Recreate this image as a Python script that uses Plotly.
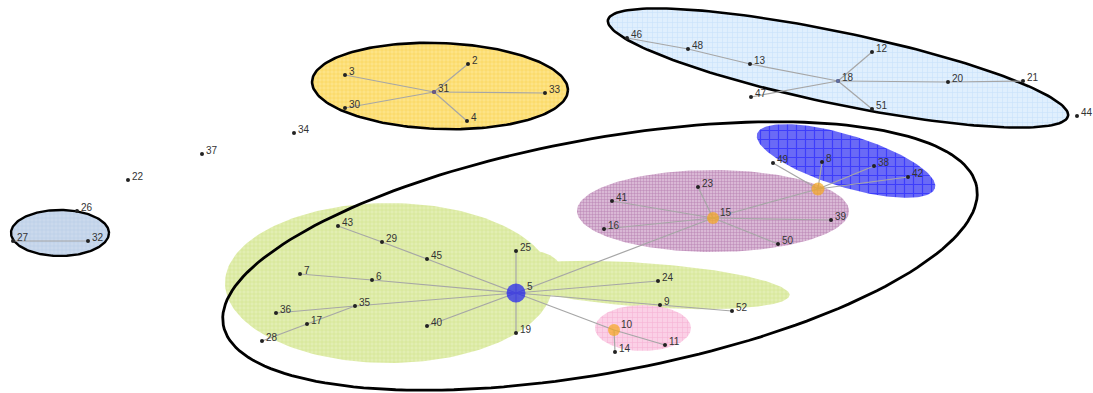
import numpy as np
import plotly.graph_objects as go

# ---- nodes: id, label, position (canvas units, y grows downward) ----
node_ids = ["31", "3", "2", "33", "30", "4",
            "18", "46", "48", "13", "12", "20", "21", "47", "51", "44",
            "27", "32", "26", "22", "37", "34",
            "5", "25", "19", "43", "29", "45", "7", "6", "35", "36", "17", "28", "40",
            "24", "9", "52", "10", "14", "11",
            "15", "23", "41", "16", "39", "50",
            "hub", "49", "8", "38", "42"]
node_labels = [n if n != "hub" else "" for n in node_ids]
node_x = [434, 345, 468, 545, 345, 467,
          838, 627, 688, 750, 872, 948, 1023, 751, 872, 1077,
          13, 88, 77, 128, 202, 294,
          516, 516, 516, 338, 382, 427, 300, 372, 355, 276, 307, 262, 427,
          658, 660, 732, 614, 615, 665,
          713, 698, 612, 604, 831, 778,
          818, 773, 822, 874, 908]
node_y = [92, 75, 64, 93, 108, 121,
          81, 38, 49, 64, 52, 82, 81, 97, 109, 116,
          241, 241, 211, 180, 154, 133,
          293, 251, 333, 226, 242, 259, 274, 280, 306, 313, 324, 341, 326,
          281, 305, 311, 330, 352, 345,
          218, 187, 201, 229, 220, 244,
          189, 163, 162, 166, 177]

# ---- edges ----
edges = [("31", "3"), ("31", "2"), ("31", "33"), ("31", "30"), ("31", "4"),
         ("18", "13"), ("13", "48"), ("48", "46"), ("18", "12"), ("18", "20"),
         ("20", "21"), ("18", "47"), ("18", "51"),
         ("27", "32"),
         ("5", "25"), ("5", "19"), ("5", "45"), ("45", "29"), ("29", "43"),
         ("5", "6"), ("6", "7"), ("5", "35"), ("35", "36"), ("35", "17"), ("17", "28"),
         ("5", "40"), ("5", "24"), ("5", "9"), ("9", "52"), ("5", "10"), ("10", "11"),
         ("10", "14"), ("5", "15"),
         ("15", "23"), ("15", "41"), ("15", "16"), ("15", "39"), ("15", "50"), ("15", "hub"),
         ("hub", "49"), ("hub", "8"), ("hub", "38"), ("hub", "42")]

# ---- hub highlights ----
hub_ids = ["5", "15", "hub", "10", "31", "18"]
hub_colors = ["#1c1cf2", "#f5a81e", "#f5a81e", "#f5a81e", "#8a6fb5", "#7b8fd8"]
hub_sizes = [19, 12, 13, 12, 4, 4]

# ---- cluster ellipses: centre, semi-axes, rotation (deg) ----
cl_name = ["green", "green_tail", "green_lobe", "pink", "purple", "navy",
           "group", "yellow", "sky", "left"]
cl_cx = [389, 645, 540, 643, 713, 846, 600, 440, 838, 60]
cl_cy = [283, 285, 262, 328, 211, 161, 256, 86, 68, 233]
cl_a = [164, 145, 20, 48, 136, 93, 383, 128, 235, 49]
cl_b = [80, 22, 10, 23, 41, 26, 117, 43, 36, 23]
cl_rot = [0, 4, 15, 0, 0, 17, -10.4, 2, 11.8, 0]
cl_bg = ["#e2eeb2", "#e2eeb2", "#e2eeb2", "#fbd0e6", "#d9b8d5", "#6a6af6",
         None, "#fde387", "#e0effd", "#cad9ec"]
cl_fg = ["#b9d35e", "#b9d35e", "#b9d35e", "#f39bc8", "#8d3c86", "#1010ff",
         None, "#f3c316", "#b6d6f7", "#9fbbe0"]
cl_psize = [4, 4, 4, 5, 3, 9, 4, 4, 5, 4]
cl_edge = [0, 0, 0, 0, 0, 0, 2.8, 2.6, 2.6, 2.4]


def ellipse_pts(cx, cy, a, b, rot):
    t = np.linspace(0, 2 * np.pi, 181)
    r = np.deg2rad(rot)
    ex, ey = a * np.cos(t), b * np.sin(t)
    return cx + ex * np.cos(r) - ey * np.sin(r), cy + ex * np.sin(r) + ey * np.cos(r)


fig = go.Figure()
pos = {n: (x, y) for n, x, y in zip(node_ids, node_x, node_y)}

draw_order = ["green", "green_tail", "green_lobe", "group", "pink", "purple", "navy",
              "yellow", "sky", "left"]
for name in draw_order:
    i = cl_name.index(name)
    ex, ey = ellipse_pts(cl_cx[i], cl_cy[i], cl_a[i], cl_b[i], cl_rot[i])
    kw = dict(x=ex, y=ey, mode="lines", hoverinfo="skip", showlegend=False)
    if cl_bg[i] is None:
        fig.add_trace(go.Scatter(**kw, line=dict(color="black", width=cl_edge[i])))
    else:
        fig.add_trace(go.Scatter(
            **kw, fill="toself", fillcolor=cl_bg[i],
            fillpattern=dict(shape="+", bgcolor=cl_bg[i], fgcolor=cl_fg[i],
                             size=cl_psize[i], solidity=0.25),
            line=dict(color="black" if cl_edge[i] else "rgba(0,0,0,0)",
                      width=cl_edge[i] if cl_edge[i] else 0.1)))

# edges
ex_all, ey_all = [], []
for s, t in edges:
    ex_all += [pos[s][0], pos[t][0], None]
    ey_all += [pos[s][1], pos[t][1], None]
fig.add_trace(go.Scatter(x=ex_all, y=ey_all, mode="lines", hoverinfo="skip",
                         showlegend=False, line=dict(color="#a6a6a6", width=1.2)))

# plain nodes (hubs get their own marker below)
plain = [k for k, n in enumerate(node_ids) if n not in ("5", "15", "hub", "10")]
fig.add_trace(go.Scatter(x=[node_x[k] for k in plain], y=[node_y[k] for k in plain],
                         mode="markers", showlegend=False,
                         text=[node_labels[k] for k in plain], hoverinfo="text",
                         marker=dict(size=4, color="#222222")))

# hub nodes
fig.add_trace(go.Scatter(x=[pos[h][0] for h in hub_ids], y=[pos[h][1] for h in hub_ids],
                         mode="markers", showlegend=False, hoverinfo="skip",
                         marker=dict(size=hub_sizes, color=hub_colors,
                                     line=dict(width=0))))

# labels, pushed clear of the larger hub markers
hub_radius = {h: s / 2 for h, s in zip(hub_ids, hub_sizes)}
for n, lab, x, y in zip(node_ids, node_labels, node_x, node_y):
    if lab:
        r = hub_radius.get(n, 0)
        fig.add_annotation(x=x, y=y, text=lab, showarrow=False, xanchor="left",
                           yanchor="middle", xshift=2 + max(r - 3, 0),
                           yshift=4 + max(r - 3, 0) * 0.4,
                           font=dict(family="Liberation Sans, Arial", size=10,
                                     color="#333333"))

fig.update_layout(
    width=1093, height=393, margin=dict(l=0, r=0, t=0, b=0),
    paper_bgcolor="white", plot_bgcolor="white",
    xaxis=dict(range=[0, 1093], visible=False, fixedrange=True),
    yaxis=dict(range=[393, 0], visible=False, fixedrange=True),
)

fig.write_html("out.html")
